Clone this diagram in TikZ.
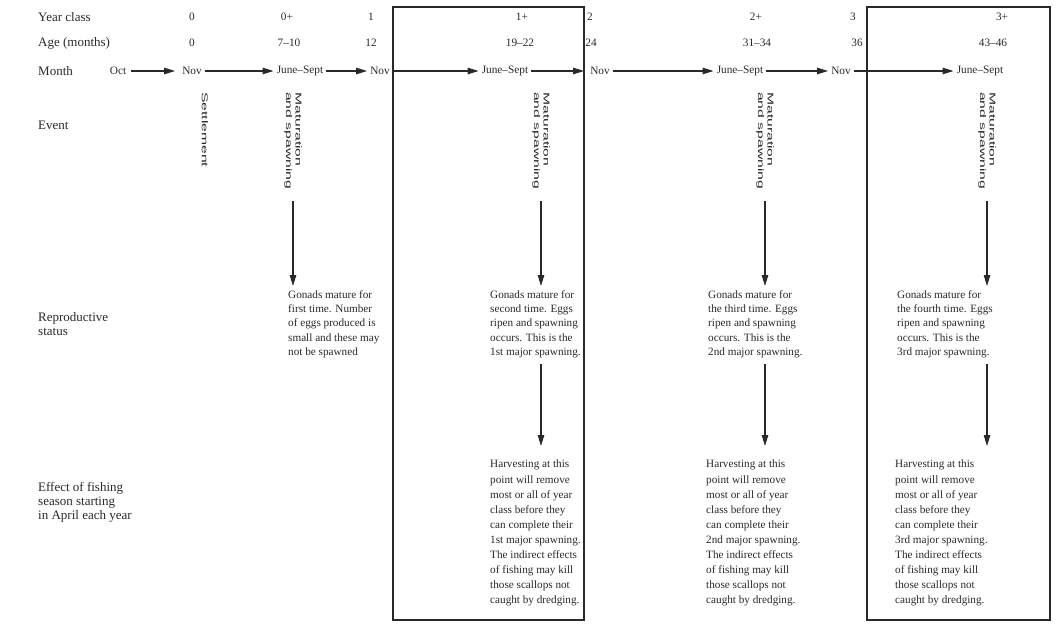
\documentclass[tikz,border=0pt]{standalone}
\usepackage{fontspec}
\setmainfont{Liberation Serif}
\newfontfamily\evfont{Liberation Sans}
\usetikzlibrary{arrows.meta}
\definecolor{ink}{gray}{0.16}
\newcommand{\stretchtxt}[1]{\scalebox{1.85}[1]{#1}}
\begin{document}
\begin{tikzpicture}[x=1pt,y=-1pt,
  every node/.style={text=ink},
  rowlbl/.style={anchor=west,align=left,inner sep=0pt,font=\fontsize{13}{14}\selectfont},
  cell/.style={inner sep=1pt,font=\fontsize{11.3}{13}\selectfont},
  flow/.style={draw=ink,line width=1.1pt,-{Triangle[length=11pt,width=6.5pt]},shorten >=2pt,shorten <=2pt},
  evt/.style={rotate=-90,anchor=west,align=left,inner sep=0pt,font=\evfont\fontsize{8.5}{9.5}\selectfont},
  desc/.style={anchor=north west,align=left,inner sep=0pt,font=\fontsize{11.2}{14.4}\selectfont},
  descb/.style={desc,font=\fontsize{11.2}{15.1}\selectfont},
  frame/.style={draw=ink,line width=1.1pt}]
\useasboundingbox (0,0) rectangle (1057,626);
% frames
\draw[frame] (393,7) rectangle (584,620);
\draw[frame] (867,7) rectangle (1050,620);
% row labels
\node[rowlbl] (lyc) at (38,17) {Year class};
\node[rowlbl] (lage) at (38,43) {Age (months)};
\node[rowlbl] (lmon) at (38,71) {Month};
\node[rowlbl] (lev) at (38,125) {Event};
\node[rowlbl] (lrep) at (38,324) {Reproductive\\status};
\node[rowlbl] (leff) at (38,502) {Effect of fishing\\season starting\\in April each year};
% year class
\node[cell] (y0) at (192,17) {0};
\node[cell] (y0p) at (287,17) {0+};
\node[cell] (y1) at (371,17) {1};
\node[cell] (y1p) at (522,17) {1+};
\node[cell] (y2) at (590,17) {2};
\node[cell] (y2p) at (756,17) {2+};
\node[cell] (y3) at (853,17) {3};
\node[cell] (y3p) at (1002,17) {3+};
% age
\node[cell] (a0) at (192,43) {0};
\node[cell] (a1) at (289,43) {7--10};
\node[cell] (a2) at (371,43) {12};
\node[cell] (a3) at (520,43) {19--22};
\node[cell] (a4) at (591,43) {24};
\node[cell] (a5) at (757,43) {31--34};
\node[cell] (a6) at (857,43) {36};
\node[cell] (a7) at (993,43) {43--46};
% months
\node[cell] (m0) at (118,71) {Oct};
\node[cell] (m1) at (192,71) {Nov};
\node[cell] (m2) at (300,71) {June--Sept};
\node[cell] (m3) at (380,71) {Nov};
\node[cell] (m4) at (505,71) {June--Sept};
\coordinate (b1r) at (584,71);
\node[cell] (m5) at (600,71) {Nov};
\node[cell] (m6) at (740,71) {June--Sept};
\node[cell] (m7) at (841,71) {Nov};
\node[cell] (m8) at (980,71) {June--Sept};
\draw[flow,shorten <=4pt,shorten >=6pt] (m0) -- (m1);
\draw[flow] (m1) -- (m2);
\draw[flow] (m2) -- (m3);
\draw[flow] (m3) -- (m4);
\draw[flow,shorten >=0pt] (m4) -- (b1r);
\draw[flow] (m5) -- (m6);
\draw[flow] (m6) -- (m7);
\draw[flow] (m7) -- (m8);
% events
\node[evt] (e0) at (205,92) {\stretchtxt{Settlement}};
\node[evt] (e1) at (293,92) {\stretchtxt{Maturation}\\\stretchtxt{and spawning}};
\node[evt] (e2) at (541,92) {\stretchtxt{Maturation}\\\stretchtxt{and spawning}};
\node[evt] (e3) at (765,92) {\stretchtxt{Maturation}\\\stretchtxt{and spawning}};
\node[evt] (e4) at (987,92) {\stretchtxt{Maturation}\\\stretchtxt{and spawning}};
% reproductive status
\node[desc] (r1) at (288,290) {Gonads mature for\\first time. Number\\of eggs produced is\\small and these may\\not be spawned};
\node[desc] (r2) at (490,290) {Gonads mature for\\second time. Eggs\\ripen and spawning\\occurs. This is the\\1st major spawning.};
\node[desc] (r3) at (708,290) {Gonads mature for\\the third time. Eggs\\ripen and spawning\\occurs. This is the\\2nd major spawning.};
\node[desc] (r4) at (897,290) {Gonads mature for\\the fourth time. Eggs\\ripen and spawning\\occurs. This is the\\3rd major spawning.};
% effect of fishing
\node[descb] (f2) at (490,460) {Harvesting at this\\point will remove\\most or all of year\\class before they\\can complete their\\1st major spawning.\\The indirect effects\\of fishing may kill\\those scallops not\\caught by dredging.};
\node[descb] (f3) at (706,460) {Harvesting at this\\point will remove\\most or all of year\\class before they\\can complete their\\2nd major spawning.\\The indirect effects\\of fishing may kill\\those scallops not\\caught by dredging.};
\node[descb] (f4) at (895,460) {Harvesting at this\\point will remove\\most or all of year\\class before they\\can complete their\\3rd major spawning.\\The indirect effects\\of fishing may kill\\those scallops not\\caught by dredging.};
% vertical arrows
\draw[flow,shorten <=12pt,shorten >=4pt] (e1.east) -- (e1.east |- r1.north);
\draw[flow,shorten <=12pt,shorten >=4pt] (e2.east) -- (e2.east |- r2.north);
\draw[flow,shorten <=12pt,shorten >=4pt] (e3.east) -- (e3.east |- r3.north);
\draw[flow,shorten <=12pt,shorten >=4pt] (e4.east) -- (e4.east |- r4.north);
\draw[flow,shorten <=6pt,shorten >=14pt] (e2.east |- r2.south) -- (e2.east |- f2.north);
\draw[flow,shorten <=6pt,shorten >=14pt] (e3.east |- r3.south) -- (e3.east |- f3.north);
\draw[flow,shorten <=6pt,shorten >=14pt] (e4.east |- r4.south) -- (e4.east |- f4.north);
\end{tikzpicture}
\end{document}
